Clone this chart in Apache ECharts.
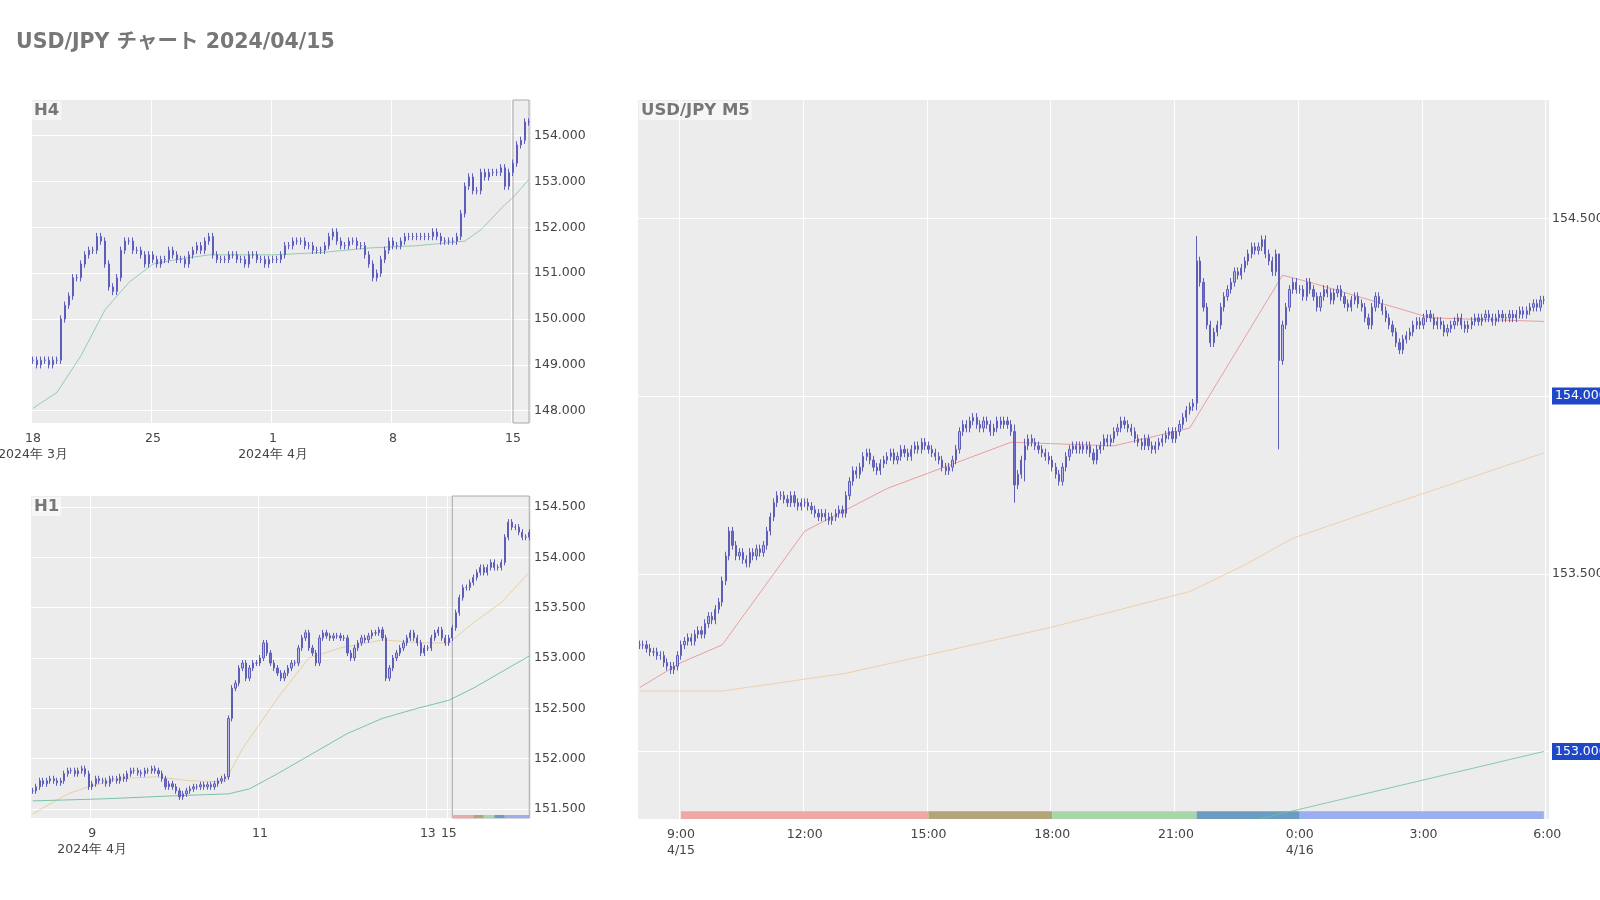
<!DOCTYPE html>
<html><head><meta charset="utf-8">
<script src="https://cdn.jsdelivr.net/npm/echarts@6/dist/echarts.min.js"></script>
<style>html,body{margin:0;padding:0;background:#fff;overflow:hidden}#c{width:1600px;height:900px;display:block}</style>
</head><body><div id="c"></div>
<script>
// ---------- DATA ----------
const h4Close = [
149.1,149.0,149.1,149.1,149.0,149.1, 149.1,150.0,150.3,150.5,150.9,150.9, 151.2,151.4,151.5,151.5,151.8,151.7, 151.2,150.7,150.6,150.9,151.5,151.7, 151.7,151.5,151.5,151.4,151.2,151.4,
151.3,151.2,151.3,151.3,151.5,151.4, 151.3,151.3,151.2,151.4,151.5,151.6, 151.5,151.7,151.8,151.4,151.3,151.3, 151.3,151.4,151.4,151.3,151.3,151.2, 151.4,151.4,151.3,151.3,151.2,151.3,
151.3,151.3,151.4,151.6,151.6,151.7, 151.7,151.7,151.6,151.6,151.5,151.5, 151.5,151.6,151.8,151.9,151.7,151.6, 151.6,151.7,151.7,151.6,151.6,151.4, 151.2,150.9,151.0,151.3,151.5,151.7,
151.6,151.6,151.7,151.8,151.8,151.8, 151.8,151.8,151.8,151.8,151.9,151.8, 151.7,151.7,151.7,151.7,151.8,152.3, 152.9,153.1,152.8,152.8,153.2,153.1, 153.2,153.2,153.2,153.3,152.9,153.2,
153.4,153.8,153.9,154.3,154.3];
const h4Ma = [[0,148.05],[6,148.4],[12,149.2],[18,150.2],[24,150.8],[30,151.2],[36,151.3],[44,151.4],[60,151.4],[72,151.45],[84,151.55],[96,151.6],[108,151.7],[112,151.95],[118,152.5],[120,152.65],[124,153.05]];
const h4Ticks = {0:'18\n2024年 3月',30:'25',60:'1\n2024年 4月',90:'8',120:'15'};
const h4YTicks = [148,149,150,151,152,153,154];

const h1Close = [
151.68,151.72,151.78,151.75,151.78,151.8,151.78,151.76,151.78,151.85,151.88,151.88,151.85,151.88,151.9,151.85,151.72,
151.75,151.8,151.78,151.78,151.75,151.8,151.8,151.78,151.82,151.8,151.85,151.88,151.88,151.86,151.85,151.88,151.88,151.9,151.88,151.85,151.8,151.72,151.75,151.72,
151.68,151.62,151.65,151.68,151.7,151.72,151.72,151.74,151.72,151.74,151.72,151.75,151.78,151.8,151.82,152.4,152.7,152.75,152.9,152.95,152.8,152.9,152.95,152.95,
153.0,153.15,153.05,152.95,152.9,152.85,152.8,152.85,152.9,152.95,152.95,153.1,153.2,153.25,153.1,153.05,152.95,153.2,153.25,153.22,153.2,153.22,153.22,153.2,
153.2,153.05,153.0,153.1,153.15,153.2,153.18,153.22,153.25,153.25,153.28,153.2,152.8,152.9,153.0,153.05,153.1,153.15,153.2,153.25,153.2,153.15,153.05,153.1,
153.1,153.2,153.25,153.28,153.2,153.15,
153.2,153.3,153.45,153.6,153.7,153.7,153.75,153.8,153.85,153.9,153.85,153.9,153.95,153.9,153.9,153.95,154.2,154.35,154.3,154.3,154.25,154.2,154.2,154.25];
const h1MaA = [[0,151.45],[10,151.65],[16,151.72],[25,151.8],[35,151.82],[45,151.78],[55,151.77],[60,152.1],[70,152.6],[79,153.0],[88,153.1],[100,153.18],[112,153.15],[119,153.15],[126,153.35],[134,153.55],[142,153.85]];
const h1MaB = [[0,151.58],[20,151.6],[40,151.63],[56,151.65],[62,151.7],[70,151.85],[80,152.05],[90,152.25],[100,152.4],[110,152.5],[119,152.58],[126,152.7],[135,152.88],[142,153.02]];
const h1Ticks = {17:'9\n2024年 4月',65:'11',113:'13',119:'15'};
const h1YTicks = [151.5,152,152.5,153,153.5,154,154.5];

const m5Close = [
153.30,153.30,153.29,153.28,153.28,153.27,153.27,153.25,153.24,153.23,153.24,153.27,
153.30,153.31,153.32,153.31,153.33,153.34,153.33,153.36,153.38,153.37,153.40,153.42,
153.48,153.55,153.62,153.58,153.55,153.56,153.54,153.53,153.56,153.55,153.57,153.56,
153.58,153.62,153.66,153.70,153.72,153.72,153.71,153.70,153.72,153.70,153.69,153.70,
153.70,153.69,153.68,153.67,153.66,153.67,153.66,153.65,153.66,153.67,153.68,153.67,
153.72,153.76,153.79,153.78,153.80,153.83,153.84,153.82,153.80,153.79,153.81,153.82,
153.83,153.84,153.82,153.83,153.85,153.84,153.83,153.85,153.86,153.85,153.87,153.86,
153.85,153.84,153.83,153.82,153.80,153.79,153.80,153.82,153.85,153.90,153.92,153.91,
153.93,153.94,153.92,153.91,153.93,153.92,153.90,153.91,153.93,153.92,153.93,153.92,
153.90,153.75,153.78,153.82,153.86,153.88,153.87,153.86,153.85,153.84,153.83,153.82,
153.80,153.78,153.76,153.80,153.83,153.85,153.86,153.85,153.86,153.85,153.86,153.84,
153.82,153.85,153.86,153.88,153.87,153.88,153.90,153.91,153.93,153.92,153.91,153.90,
153.88,153.87,153.86,153.88,153.86,153.85,153.86,153.87,153.88,153.89,153.90,153.88,
153.90,153.92,153.94,153.96,153.97,153.98,154.38,154.32,154.25,154.20,154.15,154.18,
154.20,154.25,154.28,154.30,154.32,154.35,154.34,154.36,154.38,154.40,154.42,154.41,
154.42,154.44,154.40,154.38,154.35,154.40,154.10,154.20,154.25,154.30,154.32,154.30,
154.30,154.28,154.32,154.30,154.28,154.25,154.28,154.30,154.29,154.27,154.29,154.30,
154.28,154.26,154.25,154.27,154.28,154.26,154.25,154.22,154.20,154.25,154.28,154.26,
154.24,154.22,154.20,154.18,154.15,154.13,154.16,154.17,154.18,154.20,154.21,154.20,
154.22,154.23,154.22,154.20,154.21,154.20,154.18,154.19,154.20,154.21,154.22,154.20,
154.19,154.20,154.21,154.22,154.21,154.22,154.23,154.22,154.21,154.22,154.23,154.22,
154.22,154.23,154.22,154.23,154.24,154.23,154.24,154.25,154.26,154.25,154.27,154.27];
const m5Wicks = {109:[153.70,153.92],162:[153.96,154.45],186:[153.85,154.40],112:[153.76,153.88]};
const m5MaA = [[0,153.18],[12,153.25],[24,153.3],[48,153.62],[72,153.74],[108,153.87],[138,153.86],[160,153.91],[187,154.34],[195,154.32],[230,154.22],[263,154.21]];
const m5MaB = [[0,153.17],[24,153.17],[60,153.22],[120,153.35],[160,153.45],[175,153.52],[190,153.6],[220,153.7],[263,153.84]];
const m5MaC = [[180,152.81],[263,153.0]];
const m5Ticks = {12:'9:00\n4/15',48:'12:00',84:'15:00',120:'18:00',156:'21:00',192:'0:00\n4/16',228:'3:00',264:'6:00'};
const m5YTicks = [153,153.5,154,154.5];
const sessions = [[12,84,'#f2a7a7'],[84,120,'#b2a57a'],[120,162,'#a8d6a8'],[162,192,'#6c9cc2'],[192,263,'#9aaef0']];
const h1Sessions = [[120,126,'#f2a7a7'],[126,129,'#b2a57a'],[129,132,'#a8d6a8'],[132,135,'#6c9cc2'],[135,142,'#9aaef0']];

// ---------- BUILD ----------
const K = 1/0.98;
const S = v => Math.round(v*K);
function ohlc(close, w, wicks){
  return close.map((c,i)=>{
    const o = i? close[i-1] : c;
    let lo = Math.min(o,c)-w, hi = Math.max(o,c)+w;
    if (wicks && wicks[i]) { lo = wicks[i][0]; hi = wicks[i][1]; }
    return [o,c,lo,hi];
  });
}
const candleStyle = {color:'#b8b8ec',color0:'#6e6ec8',borderColor:'#5e5eb8',borderColor0:'#5e5eb8',borderWidth:1};
const axisTxt = {color:'#444',fontSize:12.5,fontFamily:'DejaVu Sans'};
function xAxis(idx,n,ticks){
  const cats = Array.from({length:n},(_,i)=>i);
  return {type:'category',gridIndex:idx,data:cats,boundaryGap:true,
    axisLine:{show:false},axisTick:{show:false},
    axisLabel:Object.assign({interval:(i)=>ticks[i]!==undefined,formatter:(v)=>ticks[v]||'',lineHeight:16,hideOverlap:false},axisTxt),
    splitLine:{show:true,interval:(i)=>ticks[i]!==undefined,lineStyle:{color:'#fff',width:1}}};
}
function yAxis(idx,min,max,ticks,fmt){
  return {type:'value',gridIndex:idx,position:'right',min:min,max:max,scale:true,
    axisLine:{show:false},axisTick:{show:false,customValues:ticks},
    axisLabel:Object.assign({customValues:ticks,formatter:fmt||(v=>v.toFixed(3)),margin:3},axisTxt),
    splitLine:{show:true,lineStyle:{color:'#fff',width:1}}};
}
function ma(data,xi,yi,color){return {type:'line',xAxisIndex:xi,yAxisIndex:yi,data:data,symbol:'none',connectNulls:true,lineStyle:{color:color,width:0.8},silent:true,z:3};}
function strip(list,xi,yi,y0,y1){
  return {type:'line',xAxisIndex:xi,yAxisIndex:yi,data:[],silent:true,
    markArea:{silent:true,data:list.map(s=>[{xAxis:s[0],yAxis:y0,itemStyle:{color:s[2],opacity:1}},{xAxis:s[1],yAxis:y1}])}};
}
const h4Data = ohlc(h4Close,0.08);
const h1Data = ohlc(h1Close,0.03);
const m5Data = ohlc(m5Close,0.012,m5Wicks);
const m5N = 265;
const gridBase = {show:true,backgroundColor:'#ececec',borderWidth:0,containLabel:false,outerBoundsMode:'none'};
const panelTxt = {color:'#777',fontSize:16.5,fontWeight:'bold',fontFamily:'DejaVu Sans'};

const chart = echarts.init(document.getElementById('c'),null,{renderer:'canvas',width:1600,height:900});
chart.setOption({
  animation:false,backgroundColor:'#fff',
  title:[
    {text:'USD/JPY チャート 2024/04/15',left:S(16)-5,top:S(31)-5,padding:5,textStyle:{color:'#777',fontSize:20.5,fontWeight:'bold',fontFamily:'DejaVu Sans, Noto Sans CJK JP'}},
    {text:'H4',left:S(31),top:S(99),backgroundColor:'rgba(255,255,255,0.5)',padding:[1,2],textStyle:panelTxt},
    {text:'H1',left:S(31),top:S(487),backgroundColor:'rgba(255,255,255,0.5)',padding:[1,2],textStyle:panelTxt},
    {text:'USD/JPY M5',left:S(626),top:S(99),backgroundColor:'rgba(255,255,255,0.5)',padding:[1,2],textStyle:panelTxt}
  ],
  grid:[
    Object.assign({left:S(30),top:S(98),width:S(490),height:S(317)},gridBase),
    Object.assign({left:S(30),top:S(486),width:S(490),height:S(316)},gridBase),
    Object.assign({left:S(625),top:S(98),width:S(893),height:S(705)},gridBase)
  ],
  xAxis:[xAxis(0,h4Close.length,h4Ticks),xAxis(1,h1Close.length,h1Ticks),xAxis(2,m5N,m5Ticks)],
  yAxis:[
    yAxis(0,147.73,154.78,h4YTicks),
    yAxis(1,151.41,154.61,h1YTicks),
    yAxis(2,152.81,154.833,m5YTicks,v=>{const s=v.toFixed(3);return (v===154||v===153)?'{hl|'+s+'}':s;})
  ],
  series:[
    {type:'candlestick',xAxisIndex:0,yAxisIndex:0,data:h4Data,itemStyle:candleStyle,barMaxWidth:3,z:4,
      markArea:{silent:true,itemStyle:{color:'rgba(255,255,255,0.15)',borderColor:'#aaa',borderWidth:1},data:[[{xAxis:120,yAxis:147.73},{xAxis:124,yAxis:154.78}]]}},
    ma(h4Ma,0,0,'#7cc49a'),
    {type:'candlestick',xAxisIndex:1,yAxisIndex:1,data:h1Data,itemStyle:candleStyle,barMaxWidth:3,z:4,
      markArea:{silent:true,itemStyle:{color:'rgba(255,255,255,0.15)',borderColor:'#aaa',borderWidth:1},data:[[{xAxis:120,yAxis:151.41},{xAxis:142,yAxis:154.61}]]}},
    ma(h1MaA,1,1,'#e6c98a'),
    ma(h1MaB,1,1,'#5cb894'),
    strip(h1Sessions,1,1,151.41,151.44),
    {type:'candlestick',xAxisIndex:2,yAxisIndex:2,data:m5Data,itemStyle:candleStyle,barMaxWidth:3,z:4},
    ma(m5MaA,2,2,'#e68a8a'),
    ma(m5MaB,2,2,'#f0c79a'),
    ma(m5MaC,2,2,'#6cc09a'),
    strip(sessions,2,2,152.81,152.832)
  ]
});
const opt = chart.getOption();
opt.yAxis[2].axisLabel.rich = {hl:{backgroundColor:'#1f48c8',color:'#fff',padding:[2,3],fontSize:12.5,fontFamily:'DejaVu Sans'}};
chart.setOption({yAxis:opt.yAxis});
</script></body></html>
